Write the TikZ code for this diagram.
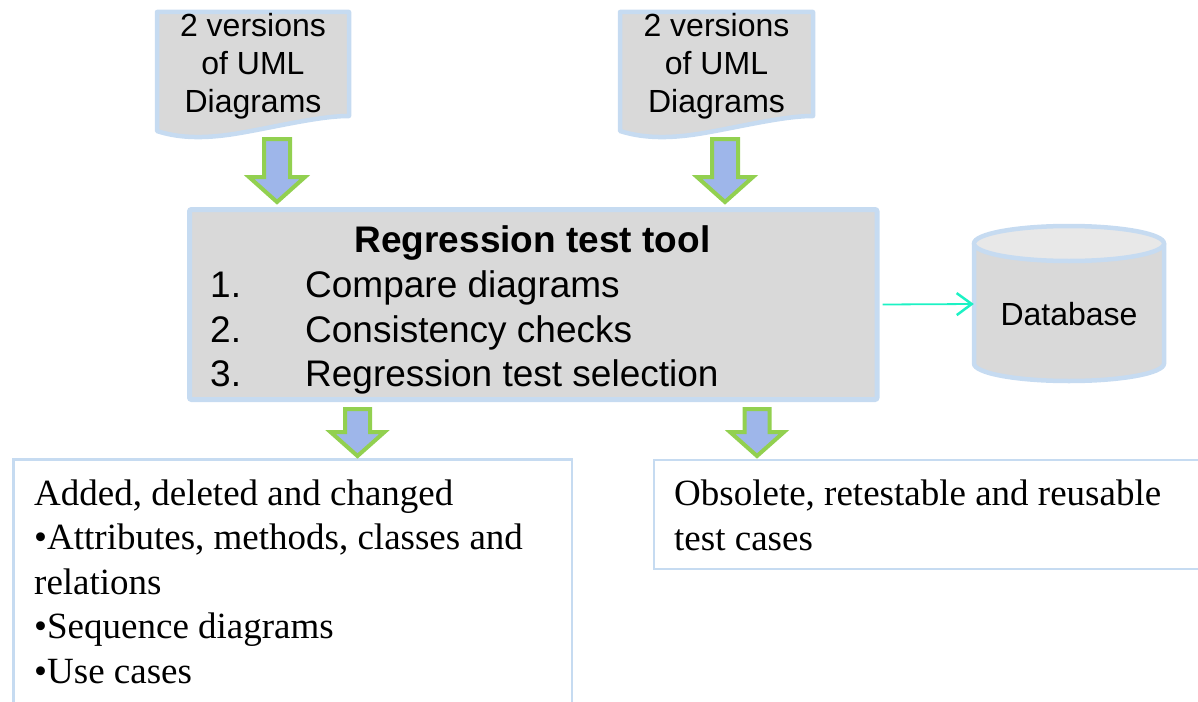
\documentclass[tikz,border=0pt]{standalone}
\usepackage{fontspec}
\setmainfont{Liberation Serif}
\newfontfamily\arialf{Liberation Sans}
\usetikzlibrary{arrows.meta,calc}

\definecolor{edgeblue}{HTML}{C6DBF1}
\definecolor{boxgray}{HTML}{D9D9D9}
\definecolor{topgray}{HTML}{E8E8E8}
\definecolor{arrowfill}{HTML}{9EB6EA}
\definecolor{arrowgreen}{HTML}{92D050}
\definecolor{linkcyan}{HTML}{1CF2C4}

\tikzset{
  docshape/.style={draw=edgeblue, fill=boxgray, line width=4.5pt, line join=round},
  doctext/.style={font=\arialf\fontsize{32}{38}\selectfont, align=center, inner sep=0pt, anchor=base},
  toolbox/.style={draw=edgeblue, fill=boxgray, line width=5pt, rounded corners=2pt, inner sep=0pt},
  tooltext/.style={font=\arialf\fontsize{37}{44}\selectfont, inner sep=0pt},
  dbshape/.style={draw=edgeblue, line width=4.5pt},
  dbtext/.style={font=\arialf\fontsize{32}{37.5}\selectfont, inner sep=0pt, anchor=base},
  outbox/.style={draw=edgeblue, line width=2.5pt},
  outtext/.style={font=\fontsize{37}{44.5}\selectfont, align=left, inner sep=0pt, anchor=base west},
  fatarrow/.style={draw=arrowgreen, fill=arrowfill, line width=4pt, line join=miter},
  link/.style={draw=linkcyan, line width=1.8pt, -{Straight Barb[length=15pt,width=22pt,line width=2.5pt]}}
}

% #1 top centre of the shaft, #2 shaft length, #3 head length,
% #4 half width of the shaft, #5 half width of the head
\newcommand\fatdown[5]{%
  \draw[fatarrow] (#1) ++(-#4,0) -- ++(0,#2) -- ++({#4-#5},0) -- ++(#5,#3)
    -- ++(#5,-#3) -- ++({#4-#5},0) -- ++(0,-#2) -- cycle;}

\begin{document}
\begin{tikzpicture}[x=1pt,y=-1pt]
\useasboundingbox (0,0) rectangle (1198,701);
\clip (0,0) rectangle (1198,701);

% input documents (multi-line nodes sit on the baseline of their last line)
\draw[docshape] (157,12) -- (349,12) -- (349,116)
  .. controls (320,116) and (280,126) .. (240,133)
  .. controls (200,140) and (175,137) .. (157,131) -- cycle;
\node[doctext] (docA) at (253,112) {2 versions\\of UML\\Diagrams};

\draw[docshape] (620,12) -- (813,12) -- (813,116)
  .. controls (784,116) and (744,126) .. (704,133)
  .. controls (664,140) and (639,137) .. (620,131) -- cycle;
\node[doctext] (docB) at (716.5,112) {2 versions\\of UML\\Diagrams};

% regression test tool
\node[toolbox, minimum width=687.5pt, minimum height=190pt] (tool) at (533.25,304.5) {};
\node[tooltext, font=\arialf\bfseries\fontsize{37}{44}\selectfont, anchor=base] (title) at (532.5,252) {Regression test tool};
\node[tooltext, anchor=base west] (n1) at (210,297) {1.};
\node[tooltext, anchor=base west] (t1) at (305,297) {Compare diagrams};
\node[tooltext, anchor=base west] (n2) at (210,342) {2.};
\node[tooltext, anchor=base west] (t2) at (305,342) {Consistency checks};
\node[tooltext, anchor=base west] (n3) at (210,386) {3.};
\node[tooltext, anchor=base west] (t3) at (305,386) {Regression test selection};

% database
\fill[boxgray] (974,243.5) -- (974,363.5)
  .. controls (974,373.2) and (1016.5,381) .. (1069,381)
  .. controls (1121.5,381) and (1164,373.2) .. (1164,363.5) -- (1164,243.5) -- cycle;
\draw[dbshape] (974,243.5) -- (974,363.5)
  .. controls (974,373.2) and (1016.5,381) .. (1069,381)
  .. controls (1121.5,381) and (1164,373.2) .. (1164,363.5) -- (1164,243.5);
\draw[dbshape, fill=topgray] (1069,243.5) ellipse [x radius=95pt, y radius=17.5pt];
\node[minimum width=190pt, minimum height=155pt, inner sep=0pt] (db) at (1069,304) {};
\node[dbtext] (dblabel) at (1069,325) {Database};

\draw[link] ([xshift=3pt]tool.east) -- (db.west);

% results
\draw[outbox] (13.5,720) -- (13.5,459.5) -- (572,459.5) -- (572,720);
\node[outtext] (changes) at (34,683) {Added, deleted and changed\\
  \textbullet Attributes, methods, classes and\\relations\\
  \textbullet Sequence diagrams\\\textbullet Use cases};

\draw[outbox] (1210,569) -- (654,569) -- (654,460) -- (1210,460);
\node[outtext] (cases) at (674,550) {Obsolete, retestable and reusable\\test cases};

% flow arrows
\coordinate (inA) at (277,139);
\coordinate (inB) at (725,139);
\coordinate (outA) at (357.5,409);
\coordinate (outB) at (757,409);
\fatdown{inA}{38}{25}{13}{28}
\fatdown{inB}{38}{25}{13}{28}
\fatdown{outA}{23}{24}{12.5}{27}
\fatdown{outB}{23}{24}{12.5}{27}
\end{tikzpicture}
\end{document}
